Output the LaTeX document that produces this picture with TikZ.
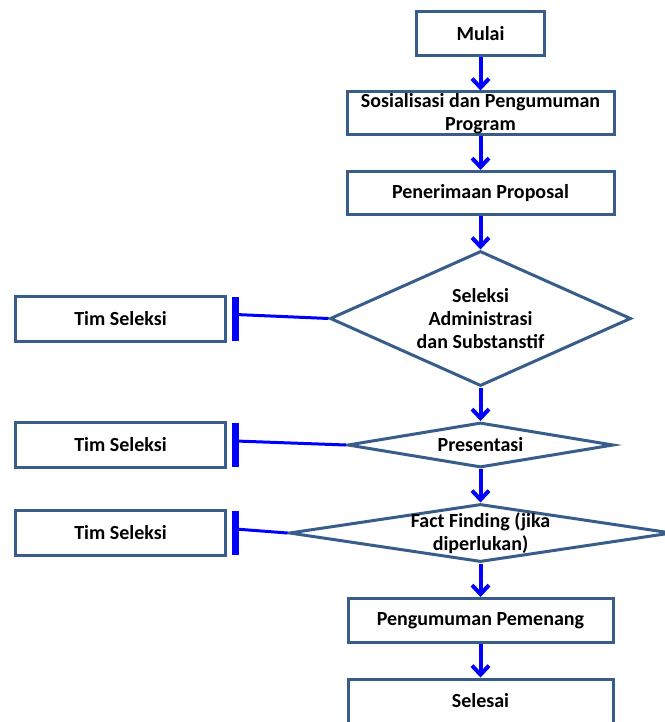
\documentclass[tikz,border=0pt]{standalone}
\usepackage{fontspec}
\setmainfont{Carlito}
\usepackage{xcolor}
\usetikzlibrary{arrows.meta,positioning,shapes.geometric}
\definecolor{boxblue}{RGB}{56,93,138}

\begin{document}
\begin{tikzpicture}[
      x=1pt, y=-1pt,
      node distance=33.5pt,
      box_node/.style={
         rectangle,
         draw=boxblue,
         line width=3pt,
         inner sep=0pt,
         align=center,
         font=\fontsize{20}{23}\selectfont\bfseries},
      dec_node/.style={
         diamond,
         draw=boxblue,
         line width=3pt,
         inner sep=0pt,
         align=center,
         font=\fontsize{20}{23}\selectfont\bfseries},
      arrow_blue/.style={
         -{Straight Barb[length=9pt,width=17pt]},
         draw=blue,
         line width=4pt},
      line_blue/.style={
         draw=blue,
         line width=3pt},
      bar_blue/.style={
         draw=blue,
         line width=7pt}
]
      \useasboundingbox (0,0) rectangle (664,722);

      %alur utama
      \node[box_node, minimum width=128pt, minimum height=44pt] (mulai) at (480.5,33.5) {Mulai};
      \node[box_node, below=of mulai, minimum width=267pt, minimum height=43pt] (sosialisasi) {Sosialisasi dan Pengumuman\\Program};
      \node[box_node, below=of sosialisasi, minimum width=267pt, minimum height=43pt] (penerimaan) {Penerimaan Proposal};

      \node[dec_node, below=of penerimaan, aspect=2.2, minimum width=301pt, minimum height=135pt] (seleksi) {Seleksi\\Administrasi\\dan Substanstif};
      \node[dec_node, below=of seleksi, aspect=5.6, minimum width=266pt, minimum height=45pt] (presentasi) {Presentasi};
      \node[dec_node, below=of presentasi, aspect=6.6, minimum width=383pt, minimum height=58pt] (fact) {};
      \node[font=\fontsize{20}{23}\selectfont\bfseries, align=center, inner sep=0pt] (facttxt) at (fact) {Fact Finding (jika\\diperlukan)};

      \node[box_node, below=of fact, minimum width=265pt, minimum height=44pt] (pemenang) {Pengumuman Pemenang};
      \node[box_node, below=of pemenang, minimum width=265pt, minimum height=44pt] (selesai) {Selesai};

      %tim seleksi
      \coordinate (kiri) at (120.5,0);
      \node[box_node, minimum width=210pt, minimum height=45pt] (tim1) at (kiri |- seleksi) {Tim Seleksi};
      \node[box_node, minimum width=210pt, minimum height=45pt] (tim2) at (kiri |- presentasi) {Tim Seleksi};
      \node[box_node, minimum width=210pt, minimum height=45pt] (tim3) at (kiri |- fact) {Tim Seleksi};

    \foreach \i/\j in {mulai/sosialisasi, sosialisasi/penerimaan, penerimaan/seleksi,
      seleksi/presentasi, presentasi/fact, fact/pemenang, pemenang/selesai}
    \draw [arrow_blue] (\i) -- (\j);

    \foreach \d/\t in {seleksi/tim1, presentasi/tim2, fact/tim3}{% diamond/tim
      \coordinate (ujung-\t) at ([xshift=8.5pt,yshift=4pt]\t.east);
      \draw [line_blue] (\d.west) -- (ujung-\t);
      \draw [bar_blue] ([xshift=8.5pt,yshift=-2pt]\t.north east) -- ([xshift=8.5pt,yshift=2pt]\t.south east);
    }

\end{tikzpicture}
\end{document}
